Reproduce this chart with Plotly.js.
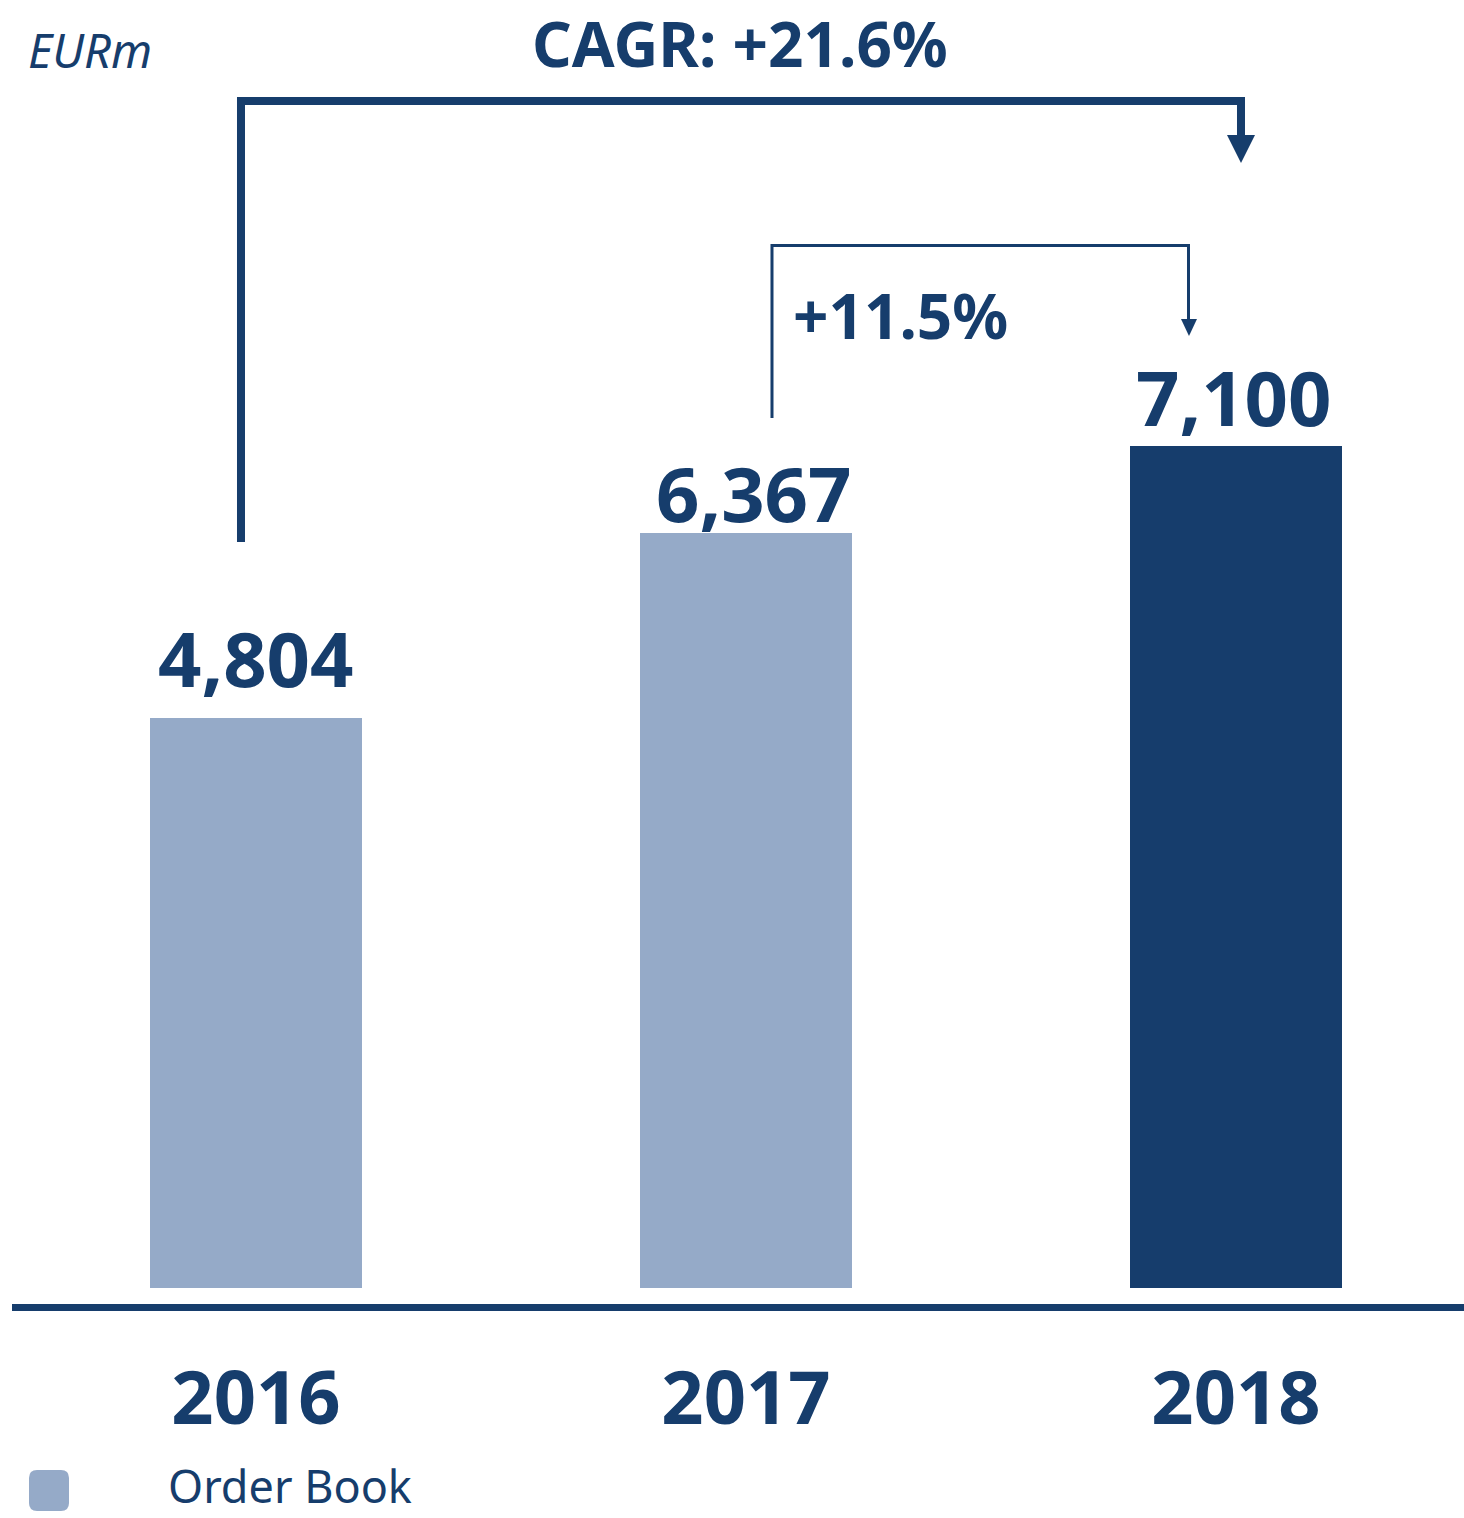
<!DOCTYPE html>
<html><head><meta charset="utf-8">
<script src="https://cdn.plot.ly/plotly-3.0.1.min.js"></script>
<style>html,body{margin:0;padding:0;background:#fff}#chart{width:1464px;height:1518px}</style>
</head><body><div id="chart"></div>
<script>
// ---- data ----
const years = ['2016', '2017', '2018'];
const orderBook = [4804, 6367, 7100];
const unitLabel = 'EURm';
const seriesName = 'Order Book';
const cagrLabel = 'CAGR: +21.6%';
const yoyLabel = '+11.5%';

// ---- style / layout ----
const NAVY = '#163D6C';
const LIGHT = '#95AAC8';
const barColors = [LIGHT, LIGHT, NAVY];
const labelShift = [61, 40, 49];
const labelXShift = [0, 8, -2];
const FONT = 'Noto Sans, Liberation Sans, sans-serif';
const W = 1464, H = 1518;
const M = {l: 11, r: 0, t: 88, b: 230, pad: 0};
const PW = W - M.l - M.r, PH = H - M.t - M.b;
const px = x => (x - M.l) / PW;
const py = y => (H - M.b - y) / PH;
const P = (x, y) => px(x).toFixed(5) + ',' + py(y).toFixed(5);

function roundRect(x0, y0, x1, y1, r) {
  return 'M' + P(x0 + r, y0) + ' L' + P(x1 - r, y0) + ' Q' + P(x1, y0) + ' ' + P(x1, y0 + r) +
    ' L' + P(x1, y1 - r) + ' Q' + P(x1, y1) + ' ' + P(x1 - r, y1) +
    ' L' + P(x0 + r, y1) + ' Q' + P(x0, y1) + ' ' + P(x0, y1 - r) +
    ' L' + P(x0, y0 + r) + ' Q' + P(x0, y0) + ' ' + P(x0 + r, y0) + ' Z';
}

const trace = {
  type: 'bar', x: years, y: orderBook, name: seriesName,
  width: 0.433, marker: {color: barColors, line: {width: 0}},
  hoverinfo: 'none', showlegend: false
};

const valueAnns = years.map((yr, i) => ({
  x: i, y: orderBook[i], xref: 'x', yref: 'y',
  text: orderBook[i].toLocaleString('en-US'),
  showarrow: false, xanchor: 'center', yanchor: 'middle',
  yshift: labelShift[i], xshift: labelXShift[i],
  font: {family: FONT, size: 76, weight: 'bold', color: NAVY}
}));

const textAnns = [
  {text: unitLabel, x: px(26), y: py(50), xanchor: 'left', yanchor: 'middle',
   font: {family: FONT, size: 47, style: 'italic', color: NAVY}},
  {text: cagrLabel, x: px(740), y: py(43.5), xanchor: 'center', yanchor: 'middle',
   font: {family: FONT, size: 62, weight: 'bold', color: NAVY}},
  {text: yoyLabel, x: px(900), y: py(315), xanchor: 'center', yanchor: 'middle',
   font: {family: FONT, size: 62, weight: 'bold', color: NAVY}},
  {text: seriesName, x: px(166), y: py(1518), xanchor: 'left', yanchor: 'bottom',
   font: {family: FONT, size: 45, color: NAVY}}
].map(a => Object.assign({xref: 'paper', yref: 'paper', showarrow: false}, a));

const shapes = [
  {type: 'path', xref: 'paper', yref: 'paper',
   path: 'M' + P(241, 542) + ' L' + P(241, 101) + ' L' + P(1241, 101) + ' L' + P(1241, 138),
   line: {color: NAVY, width: 8}},
  {type: 'path', xref: 'paper', yref: 'paper',
   path: 'M' + P(1227, 135) + ' L' + P(1255, 135) + ' L' + P(1241, 163) + ' Z',
   fillcolor: NAVY, line: {width: 0}},
  {type: 'path', xref: 'paper', yref: 'paper',
   path: 'M' + P(772, 418) + ' L' + P(772, 245.5) + ' L' + P(1188.5, 245.5) + ' L' + P(1188.5, 322),
   line: {color: NAVY, width: 3}},
  {type: 'path', xref: 'paper', yref: 'paper',
   path: 'M' + P(1181, 319) + ' L' + P(1197, 319) + ' L' + P(1189, 336) + ' Z',
   fillcolor: NAVY, line: {width: 0}},
  {type: 'line', xref: 'paper', yref: 'paper', x0: px(12), x1: 1, y0: py(1307.5), y1: py(1307.5),
   line: {color: NAVY, width: 7}},
  {type: 'path', xref: 'paper', yref: 'paper', path: roundRect(29, 1470, 69, 1511, 8),
   fillcolor: LIGHT, line: {width: 0}}
];

const layout = {
  width: W, height: H, margin: M,
  paper_bgcolor: '#ffffff', plot_bgcolor: '#ffffff',
  showlegend: false, bargap: 0,
  xaxis: {
    type: 'category', range: [-0.5, -0.5 + PW / 490], fixedrange: true,
    showline: false, showgrid: false, zeroline: false, ticks: '',
    ticklabelstandoff: 61,
    tickfont: {family: FONT, size: 74, weight: 'bold', color: NAVY}
  },
  yaxis: {range: [0, 10114], visible: false, fixedrange: true},
  annotations: valueAnns.concat(textAnns),
  shapes: shapes
};

Plotly.newPlot('chart', [trace], layout, {staticPlot: true, displayModeBar: false});
</script></body></html>
